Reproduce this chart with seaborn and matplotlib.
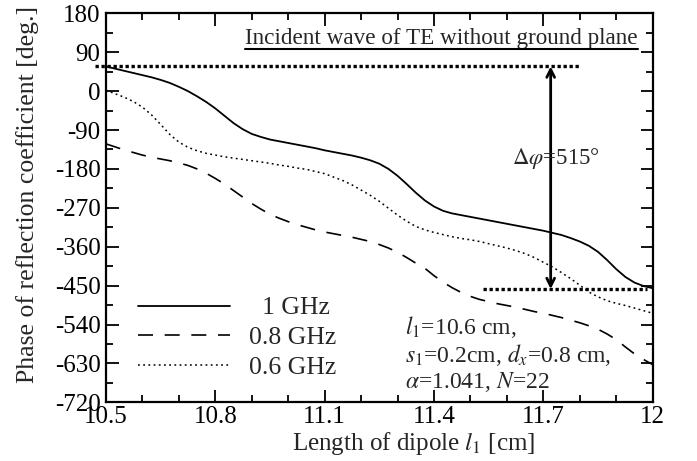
import numpy as np
import pandas as pd
import matplotlib
matplotlib.use("Agg")
import matplotlib.pyplot as plt
import seaborn as sns
from matplotlib.lines import Line2D

# ---- data ----
length = [10.500, 10.525, 10.550, 10.575, 10.600, 10.625, 10.650, 10.675, 10.700, 10.725,
          10.750, 10.775, 10.800, 10.825, 10.850, 10.875, 10.900, 10.925, 10.950, 10.975,
          11.000, 11.025, 11.050, 11.075, 11.100, 11.125, 11.150, 11.175, 11.200, 11.225,
          11.250, 11.275, 11.300, 11.325, 11.350, 11.375, 11.400, 11.425, 11.450, 11.475,
          11.500, 11.525, 11.550, 11.575, 11.600, 11.625, 11.650, 11.675, 11.700, 11.725,
          11.750, 11.775, 11.800, 11.825, 11.850, 11.875, 11.900, 11.925, 11.950, 11.975,
          12.000]
phase_1ghz = [57, 52, 47, 42, 37, 32, 26, 19, 10, 0,
              -12, -25, -40, -57, -74, -88, -99, -106, -112, -116,
              -120, -124, -128, -132, -137, -141, -145, -149, -154, -160,
              -168, -180, -196, -215, -235, -253, -267, -277, -283, -287,
              -291, -295, -299, -303, -307, -311, -315, -319, -323, -328,
              -333, -340, -348, -358, -372, -391, -412, -430, -443, -451,
              -456]
phase_08ghz = [-122, -129, -136, -142, -148, -153, -157, -161, -166, -172,
               -180, -190, -202, -215, -230, -245, -260, -273, -285, -294,
               -302, -309, -315, -321, -326, -330, -334, -338, -343, -348,
               -355, -363, -373, -385, -398, -410, -427, -442, -455, -466,
               -475, -482, -487, -492, -496, -500, -505, -510, -514, -519,
               -524, -530, -536, -543, -551, -562, -575, -592, -608, -621,
               -633]
phase_06ghz = [2, -6, -14, -24, -37, -55, -77, -100, -118, -130,
               -138, -144, -148, -152, -155, -158, -161, -164, -167, -171,
               -174, -178, -181, -186, -191, -199, -207, -217, -229, -241,
               -255, -271, -287, -301, -313, -321, -327, -332, -337, -341,
               -344, -348, -353, -358, -363, -369, -376, -385, -396, -407,
               -420, -434, -449, -465, -476, -485, -491, -496, -502, -508,
               -514]
series_labels = ["1 GHz", "0.8 GHz", "0.6 GHz"]
x_ticks = [10.5, 10.8, 11.1, 11.4, 11.7, 12.0]
x_tick_labels = ["10.5", "10.8", "11.1", "11.4", "11.7", "12"]
y_ticks = [180, 90, 0, -90, -180, -270, -360, -450, -540, -630, -720]
top_level = 57
bottom_level = -458
top_line_span = [10.47, 11.80]
bottom_line_span = [11.535, 11.985]
arrow_x = 11.72

# ---- style ----
sns.set_theme(style="ticks")
plt.rcParams["font.family"] = ["Liberation Serif", "DejaVu Serif"]
plt.rcParams["mathtext.fontset"] = "stix"
plt.rcParams["axes.unicode_minus"] = False

fig = plt.figure(figsize=(6.97, 4.61), dpi=100)
ax = fig.add_axes([0.152, 0.1273, 0.7845, 0.8438])

styles = {
    "1 GHz": dict(linestyle="-", linewidth=1.3),
    "0.8 GHz": dict(linestyle=(0, (9, 7)), linewidth=1.2),
    "0.6 GHz": dict(linestyle=(0, (1.2, 2.2)), linewidth=1.1),
}
for lab, ys in zip(series_labels, [phase_1ghz, phase_08ghz, phase_06ghz]):
    df = pd.DataFrame({"l": length, "phase": ys})
    sns.lineplot(data=df, x="l", y="phase", ax=ax, color="black", label=lab,
                 **styles[lab])

ax.set_xlim(10.5, 12.0)
ax.set_ylim(-720, 180)
ax.set_xticks(x_ticks)
ax.set_xticklabels(x_tick_labels)
ax.set_xticks(np.arange(10.5, 12.001, 0.1), minor=True)
ax.set_yticks(y_ticks)
ax.set_yticklabels([str(v) for v in y_ticks])
ax.set_yticks(np.arange(-720, 181, 45), minor=True)
ax.tick_params(which="both", direction="in", top=True, right=True,
               labelsize=18, width=1.3, colors="black")
ax.tick_params(which="major", length=9)
ax.tick_params(which="minor", length=5)
ax.tick_params(axis="x", pad=2.5)
ax.tick_params(axis="y", pad=4)
for s in ax.spines.values():
    s.set_linewidth(1.6)
    s.set_color("black")

ax.set_xlabel(r"Length of dipole $l_1$ [cm]", fontsize=18)
ax.set_ylabel("Phase of reflection coefficient [deg.]", fontsize=18.5)
ax.xaxis.set_label_coords(0.5625, -0.071)
ax.yaxis.set_label_coords(-0.122, 0.533)

handles, labels = ax.get_legend_handles_labels()
labels = ["  " + lb if lb == "1 GHz" else lb for lb in labels]
leg = ax.legend(handles, labels, loc="upper left", bbox_to_anchor=(0.058, 0.272),
                frameon=False, fontsize=18.5, handlelength=3.6, handletextpad=0.75,
                labelspacing=0.27, borderpad=0, borderaxespad=0)

# dotted reference lines
ax.plot(top_line_span, [top_level, top_level], color="black", linestyle=(0, (1, 0.8)),
        linewidth=2.4, clip_on=False)
ax.plot(bottom_line_span, [bottom_level, bottom_level], color="black",
        linestyle=(0, (1, 0.8)), linewidth=2.4, clip_on=False)
ax.annotate("", xy=(arrow_x, bottom_level), xytext=(arrow_x, top_level),
            arrowprops=dict(arrowstyle="<->", lw=2, color="black",
                            shrinkA=0, shrinkB=0, mutation_scale=14))
ax.text(11.614, -155, r"$\Delta\varphi$=515°", fontsize=16.5, ha="left", va="center")

# parameter text
ax.text(11.32, -545, r"$l_1$=10.6 cm,", fontsize=17, ha="left", va="center")
ax.text(11.32, -610, r"$s_1$=0.2cm, $d_x$=0.8 cm,", fontsize=17, ha="left", va="center")
ax.text(11.32, -673, r"$\alpha$=1.041, $N$=22", fontsize=17, ha="left", va="center")

# title with underline
t = ax.text(0.9725, 0.935, "Incident wave of TE without ground plane", fontsize=16.7,
            ha="right", va="center", transform=ax.transAxes)
fig.canvas.draw()
bb = t.get_window_extent().transformed(fig.transFigure.inverted())
yline = 1 - 49.5 / 461
fig.add_artist(Line2D([bb.x0, bb.x1], [yline, yline], color="black", linewidth=1.5,
                      transform=fig.transFigure))

fig.savefig("out.png", dpi=100)
